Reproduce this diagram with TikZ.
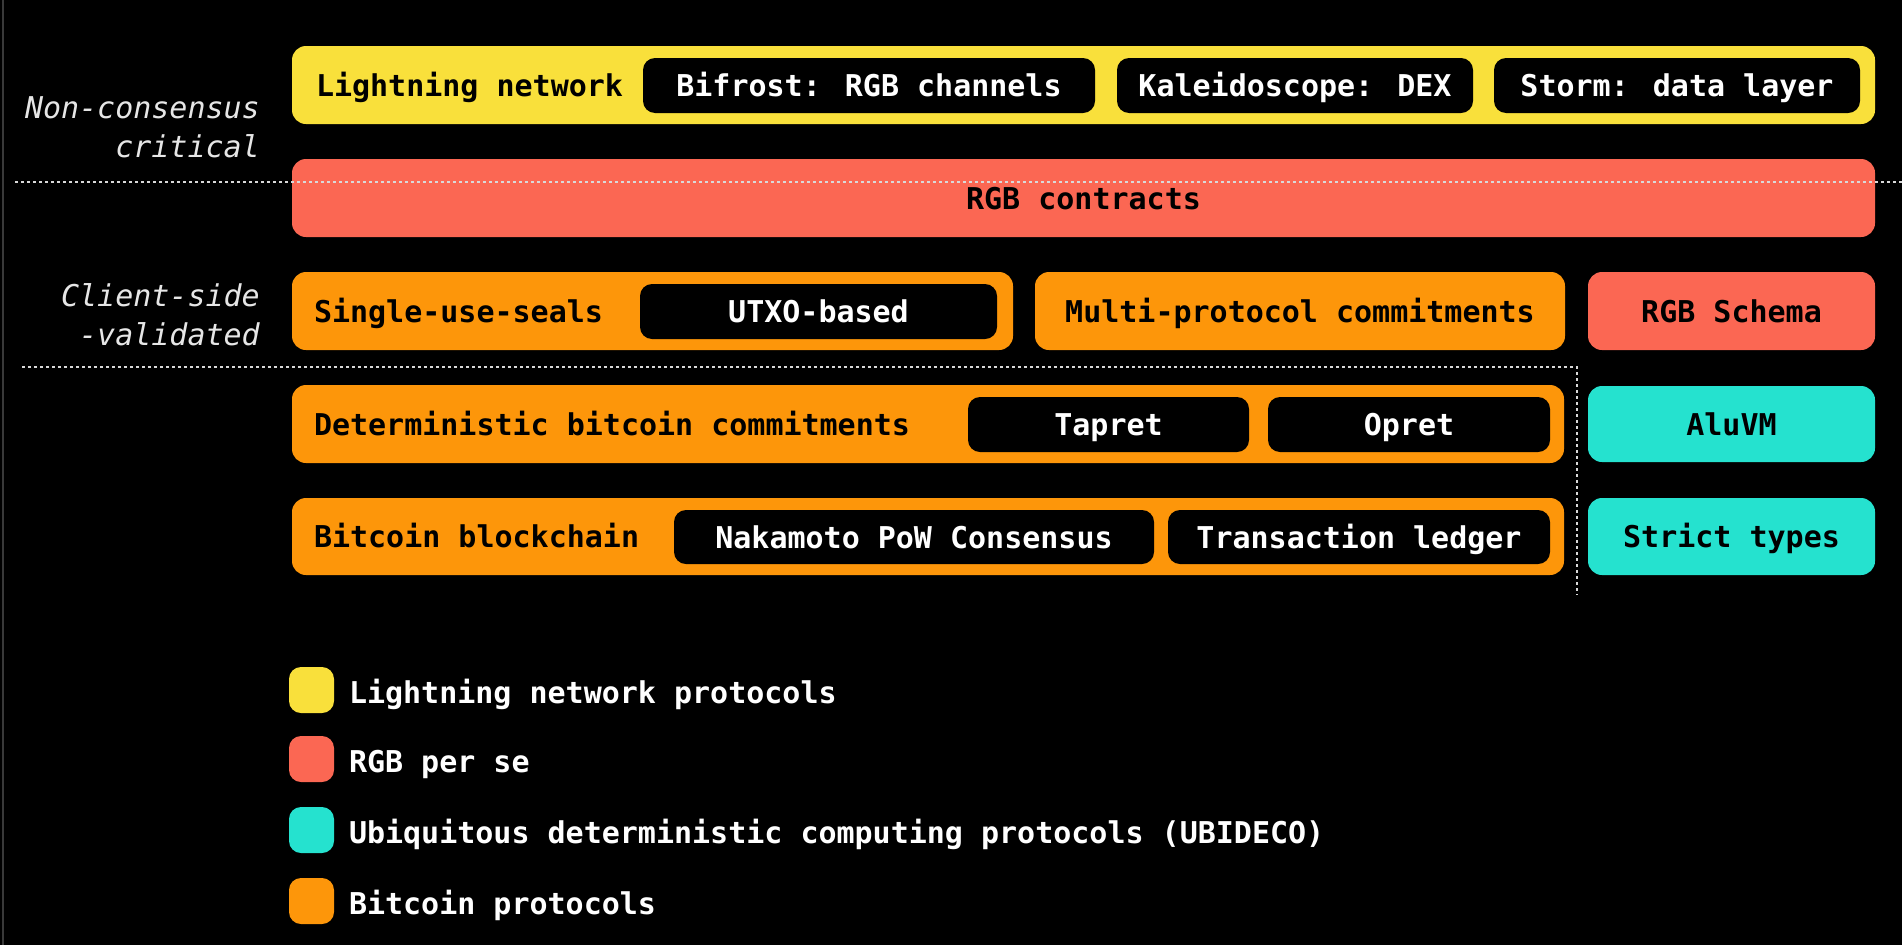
\documentclass[tikz,border=0pt]{standalone}
\usepackage{fontspec}
\setmainfont{DejaVu Sans Mono}[BoldFont={* Bold},ItalicFont={* Oblique}]
\definecolor{lnyellow}{HTML}{F9E03B}
\definecolor{rgbred}{HTML}{FB6753}
\definecolor{ubiteal}{HTML}{25E2CF}
\definecolor{btcorange}{HTML}{FD960A}
\definecolor{sidegray}{HTML}{E6E6E6}
\newcommand\drawbox[7]{\node[#2, minimum width={#5-#3}, minimum height={#6-#4}] (#1) at ({(#3+#5)/2},{(#4+#6)/2}) {#7};}
\begin{document}
\begin{tikzpicture}[x=1pt,y=-1pt,
  base/.style={inner sep=0pt, outer sep=0pt, font=\fontsize{30}{36}\selectfont\bfseries, text height=22pt, text depth=0pt},
  outerbox/.style={base, rounded corners=14pt, text=black},
  yellowbox/.style={outerbox, fill=lnyellow},
  redbox/.style={outerbox, fill=rgbred},
  tealbox/.style={outerbox, fill=ubiteal},
  orangebox/.style={outerbox, fill=btcorange},
  innerbox/.style={base, rounded corners=12pt, fill=black, text=white},
  lbl/.style={base, text=black, anchor=west},
  side/.style={inner sep=0pt, font=\fontsize{30}{36}\selectfont\itshape, text=sidegray, anchor=base east},
  legsq/.style={inner sep=0pt, rounded corners=12pt, minimum width=45pt, minimum height=46pt},
  legtxt/.style={base, text=white, anchor=west},
  sep/.style={draw=white!85!black, line width=1.6pt, dash pattern=on 3pt off 3pt}
]
\useasboundingbox (0,0) rectangle (1902,945);
\fill[black] (0,0) rectangle (1902,945);
\draw[gray!45!black, line width=2pt] (3,0) -- (3,945);

% Row 1: Lightning network
\drawbox{ln}{yellowbox}{292}{46}{1875}{124}{}
\node[lbl] (lnlbl) at (316,85) {Lightning network};
\drawbox{bifrost}{innerbox}{643}{58}{1095}{113}{Bifrost: RGB channels}
\drawbox{kaleido}{innerbox}{1117}{58}{1473}{113}{Kaleidoscope: DEX}
\drawbox{storm}{innerbox}{1494}{58}{1860}{113}{Storm: data layer}

% Row 2: RGB contracts
\drawbox{contracts}{redbox}{292}{159}{1875}{237}{RGB contracts}

% Row 3
\drawbox{sus}{orangebox}{292}{272}{1013}{350}{}
\node[lbl] (suslbl) at (314,311) {Single-use-seals};
\drawbox{utxo}{innerbox}{640}{284}{997}{339}{UTXO-based}
\drawbox{mpc}{orangebox}{1035}{272}{1565}{350}{Multi-protocol commitments}
\drawbox{schema}{redbox}{1588}{272}{1875}{350}{RGB Schema}

% Row 4
\drawbox{dbc}{orangebox}{292}{385}{1564}{463}{}
\node[lbl] (dbclbl) at (314,424) {Deterministic bitcoin commitments};
\drawbox{tapret}{innerbox}{968}{397}{1249}{452}{Tapret}
\drawbox{opret}{innerbox}{1268}{397}{1550}{452}{Opret}
\drawbox{aluvm}{tealbox}{1588}{386}{1875}{462}{AluVM}

% Row 5
\drawbox{chain}{orangebox}{292}{498}{1564}{575}{}
\node[lbl] (chainlbl) at (314,536) {Bitcoin blockchain};
\drawbox{pow}{innerbox}{674}{510}{1154}{564}{Nakamoto PoW Consensus}
\drawbox{ledger}{innerbox}{1168}{510}{1550}{564}{Transaction ledger}
\drawbox{strict}{tealbox}{1588}{498}{1875}{575}{Strict types}

% Side labels
\node[side] (nc1) at (260,118) {Non-consensus};
\node[side] (nc2) at (260,157) {critical};
\node[side] (cs1) at (260,306) {Client-side};
\node[side] (cs2) at (260,345) {-validated};

% Separators
\coordinate (s1a) at (15,182);
\coordinate (s1b) at (1902,182);
\coordinate (s2a) at (22,367);
\coordinate (s2b) at (1577,367);
\coordinate (s2c) at (1577,595);
\draw[sep] (s1a) -- (s1b);
\draw[sep] (s2a) -- (s2b) -- (s2c);

% Legend
\node[legsq, fill=lnyellow] (lg1) at (311.5,690) {};
\node[legtxt] (lt1) at (349,692) {Lightning network protocols};
\node[legsq, fill=rgbred] (lg2) at (311.5,759) {};
\node[legtxt] (lt2) at (349,761) {RGB per se};
\node[legsq, fill=ubiteal] (lg3) at (311.5,830) {};
\node[legtxt] (lt3) at (349,832) {Ubiquitous deterministic computing protocols (UBIDECO)};
\node[legsq, fill=btcorange] (lg4) at (311.5,901) {};
\node[legtxt] (lt4) at (349,903) {Bitcoin protocols};
\end{tikzpicture}
\end{document}
